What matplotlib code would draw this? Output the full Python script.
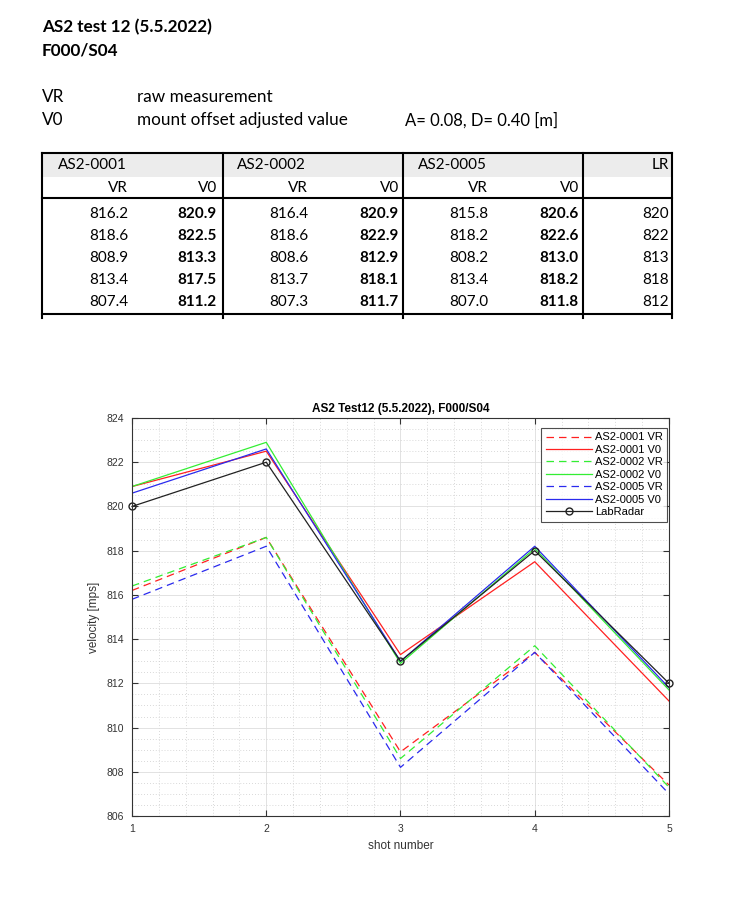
import matplotlib
matplotlib.use("Agg")
import matplotlib.pyplot as plt
from matplotlib.patches import Rectangle
from matplotlib.ticker import MultipleLocator

# data (from the table)
shots = [1, 2, 3, 4, 5]
vr_0001 = [816.2, 818.6, 808.9, 813.4, 807.4]
v0_0001 = [820.9, 822.5, 813.3, 817.5, 811.2]
vr_0002 = [816.4, 818.6, 808.6, 813.7, 807.3]
v0_0002 = [820.9, 822.9, 812.9, 818.1, 811.7]
vr_0005 = [815.8, 818.2, 808.2, 813.4, 807.0]
v0_0005 = [820.6, 822.6, 813.0, 818.2, 811.8]
labradar = [820, 822, 813, 818, 812]

W, H = 754, 899
fig = plt.figure(figsize=(W / 100, H / 100), dpi=100)

# overlay in pixel coords for the text block and table
ov = fig.add_axes([0, 0, 1, 1])
ov.set_xlim(0, W)
ov.set_ylim(H, 0)
ov.axis("off")

txt_font = "Lato"
big = 12.3
ov.text(42, 27, "AS2 test 12 (5.5.2022)", fontsize=big, fontweight="bold",
        family=txt_font, va="center")
ov.text(42, 51, "F000/S04", fontsize=big, fontweight="bold", family=txt_font, va="center")
ov.text(42, 97, "VR", fontsize=big, family=txt_font, va="center")
ov.text(137, 97, "raw measurement", fontsize=big, family=txt_font, va="center")
ov.text(42, 120, "V0", fontsize=big, family=txt_font, va="center")
ov.text(137, 120, "mount offset adjusted value", fontsize=big, family=txt_font, va="center")
ov.text(405, 120, "A= 0.08, D= 0.40 [m]", fontsize=12, family=txt_font, va="center")

# table
tl, tr = 42, 672
top, hdr1, hdr2, bot = 153, 177, 198, 314
ov.add_patch(Rectangle((tl, top), tr - tl, hdr1 - top, facecolor="#ececec", edgecolor="none"))
ov.plot([tl, tr], [top, top], color="black", lw=1.5)
ov.plot([tl, tr], [hdr2, hdr2], color="black", lw=1.5)
ov.plot([tl, tr], [bot, bot], color="black", lw=1.5)
for xv in [42, 223, 403, 583, 672]:
    ov.plot([xv, xv], [top, bot + 4], color="black", lw=1.5)

fs = 11
groups = [("AS2-0001", vr_0001, v0_0001, 58, 128, 217),
          ("AS2-0002", vr_0002, v0_0002, 237, 308, 399),
          ("AS2-0005", vr_0005, v0_0005, 418, 488, 579)]
row_y = [214, 236, 258, 280, 302]
for name, vr, v0, xn, xvr, xv0 in groups:
    ov.text(xn, 165, name, fontsize=fs, family=txt_font, va="center")
    ov.text(xvr, 188, "VR", fontsize=fs, family=txt_font, va="center", ha="right")
    ov.text(xv0, 188, "V0", fontsize=fs, family=txt_font, va="center", ha="right")
    for yy, a, b in zip(row_y, vr, v0):
        ov.text(xvr, yy, f"{a:.1f}", fontsize=fs, family=txt_font, va="center", ha="right")
        ov.text(xv0, yy, f"{b:.1f}", fontsize=fs, family=txt_font, va="center", ha="right",
                fontweight="bold")
ov.text(669, 165, "LR", fontsize=fs, family=txt_font, va="center", ha="right")
for yy, v in zip(row_y, labradar):
    ov.text(669, yy, f"{v}", fontsize=fs, family=txt_font, va="center", ha="right")

# chart
plt.rcParams["font.family"] = ["Liberation Sans", "DejaVu Sans"]
ax = fig.add_axes([132 / W, 1 - 816 / H, (669 - 132) / W, (816 - 418) / H])
dash = (0, (6, 4))
ax.plot(shots, vr_0001, color="#ff2020", lw=0.9, linestyle=dash, label="AS2-0001 VR")
ax.plot(shots, v0_0001, color="#ff2020", lw=0.9, label="AS2-0001 V0")
ax.plot(shots, vr_0002, color="#33ee33", lw=0.9, linestyle=dash, label="AS2-0002 VR")
ax.plot(shots, v0_0002, color="#33ee33", lw=0.9, label="AS2-0002 V0")
ax.plot(shots, vr_0005, color="#2a2aee", lw=0.9, linestyle=dash, label="AS2-0005 VR")
ax.plot(shots, v0_0005, color="#2a2aee", lw=0.9, label="AS2-0005 V0")
ax.plot(shots, labradar, color="#222222", lw=0.9, marker="o", markersize=5,
        markerfacecolor="none", label="LabRadar", clip_on=False)

ax.set_xlim(1, 5)
ax.set_ylim(806, 824)
ax.xaxis.set_major_locator(MultipleLocator(1))
ax.xaxis.set_minor_locator(MultipleLocator(0.2))
ax.yaxis.set_major_locator(MultipleLocator(2))
ax.yaxis.set_minor_locator(MultipleLocator(0.5))
ax.grid(which="major", color="#dddddd", lw=0.6, linestyle="-")
ax.grid(which="minor", color="#cccccc", lw=0.6, linestyle=(0, (1, 2.5)))
ax.set_axisbelow(True)
ax.tick_params(which="both", direction="in", top=True, right=True, labelsize=7.5,
               colors="#333333")
ax.tick_params(which="minor", length=0)
ax.tick_params(which="major", length=4, pad=6)
for s in ax.spines.values():
    s.set_color("#333333")
    s.set_linewidth(0.8)

ax.set_title("AS2 Test12 (5.5.2022), F000/S04", fontsize=8.5, fontweight="bold", pad=4)
ax.set_xlabel("shot number", fontsize=8.5, color="#333333")
ax.set_ylabel("velocity [mps]", fontsize=8.5, color="#333333")

leg = ax.legend(loc="upper right", bbox_to_anchor=(1 - 1.5 / 537, 1 - 10 / 398),
                fontsize=8, handlelength=4.2, frameon=True, fancybox=False,
                edgecolor="#222222", borderpad=0.4, labelspacing=0.22,
                handletextpad=0.25, borderaxespad=0)
leg.get_frame().set_linewidth(0.8)

fig.savefig("out.png", dpi=100)
